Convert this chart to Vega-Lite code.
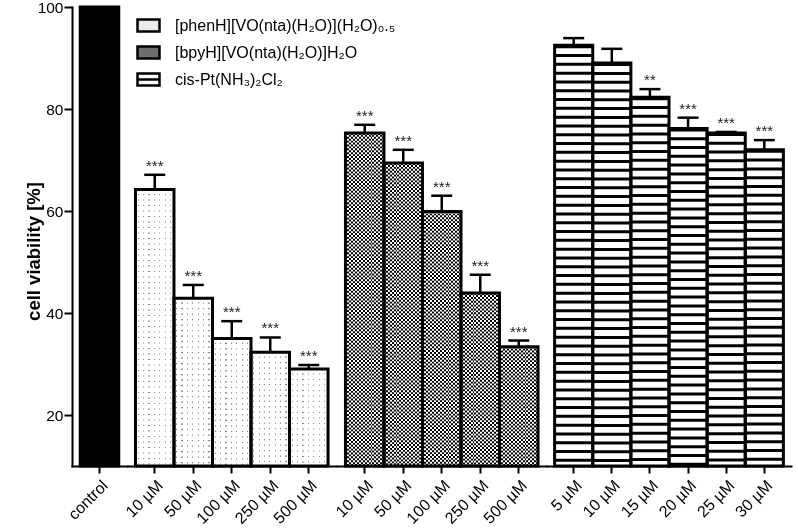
{
  "$schema": "https://vega.github.io/schema/vega-lite/v6.json",
  "padding": {"left": 24, "top": 0, "right": 5, "bottom": 5},
  "background": "white",
  "bounds": "flush",
  "spacing": 0,
  "config": {
    "view": {"stroke": null},
    "font": "Liberation Sans",
    "axis": {"labelFont": "Liberation Sans", "titleFont": "Liberation Sans", "domainColor": "black", "tickColor": "black", "labelColor": "black", "titleColor": "black", "domainWidth": 2, "tickWidth": 2, "grid": false, "domainCap": "square"},
    "axisX": {"labelAngle": -45, "labelFontSize": 16, "tickSize": 7, "labelPadding": 4}
  },
  "data": {"values": [
    {"set": "ctrl", "compound": "control", "dose": "control", "value": 100, "hi": null, "sig": ""},
    {"set": "phen", "compound": "[phenH][VO(nta)(H₂O)](H₂O)₀.₅", "dose": "10 µM", "value": 64.2, "hi": 67.1, "sig": "***"},
    {"set": "phen", "compound": "[phenH][VO(nta)(H₂O)](H₂O)₀.₅", "dose": "50 µM", "value": 42.9, "hi": 45.5, "sig": "***"},
    {"set": "phen", "compound": "[phenH][VO(nta)(H₂O)](H₂O)₀.₅", "dose": "100 µM", "value": 35.0, "hi": 38.4, "sig": "***"},
    {"set": "phen", "compound": "[phenH][VO(nta)(H₂O)](H₂O)₀.₅", "dose": "250 µM", "value": 32.3, "hi": 35.2, "sig": "***"},
    {"set": "phen", "compound": "[phenH][VO(nta)(H₂O)](H₂O)₀.₅", "dose": "500 µM", "value": 29.0, "hi": 29.8, "sig": "***"},
    {"set": "bpy", "compound": "[bpyH][VO(nta)(H₂O)]H₂O", "dose": "10 µM", "value": 75.3, "hi": 76.9, "sig": "***"},
    {"set": "bpy", "compound": "[bpyH][VO(nta)(H₂O)]H₂O", "dose": "50 µM", "value": 69.4, "hi": 72.0, "sig": "***"},
    {"set": "bpy", "compound": "[bpyH][VO(nta)(H₂O)]H₂O", "dose": "100 µM", "value": 59.9, "hi": 63.0, "sig": "***"},
    {"set": "bpy", "compound": "[bpyH][VO(nta)(H₂O)]H₂O", "dose": "250 µM", "value": 43.9, "hi": 47.5, "sig": "***"},
    {"set": "bpy", "compound": "[bpyH][VO(nta)(H₂O)]H₂O", "dose": "500 µM", "value": 33.4, "hi": 34.6, "sig": "***"},
    {"set": "pt", "compound": "cis-Pt(NH₃)₂Cl₂", "dose": "5 µM", "value": 92.5, "hi": 93.9, "sig": ""},
    {"set": "pt", "compound": "cis-Pt(NH₃)₂Cl₂", "dose": "10 µM", "value": 89.0, "hi": 91.8, "sig": ""},
    {"set": "pt", "compound": "cis-Pt(NH₃)₂Cl₂", "dose": "15 µM", "value": 82.3, "hi": 83.9, "sig": "**"},
    {"set": "pt", "compound": "cis-Pt(NH₃)₂Cl₂", "dose": "20 µM", "value": 76.2, "hi": 78.3, "sig": "***"},
    {"set": "pt", "compound": "cis-Pt(NH₃)₂Cl₂", "dose": "25 µM", "value": 75.3, "hi": 75.5, "sig": "***"},
    {"set": "pt", "compound": "cis-Pt(NH₃)₂Cl₂", "dose": "30 µM", "value": 72.0, "hi": 73.9, "sig": "***"}
  ]},
  "resolve": {"scale": {"x": "independent", "y": "independent"}},
  "hconcat": [
    {
      "width": 55, "height": 459,
      "transform": [{"filter": "datum.set === 'ctrl'"}],
      "encoding": {"x": {"field": "dose", "type": "nominal", "sort": null, "scale": {"paddingInner": 0, "paddingOuter": 0.214}, "axis": {"title": null}}},
      "layer": [
        {"mark": {"type": "bar", "fill": "black", "stroke": "black", "strokeWidth": 3},
         "encoding": {"y": {"field": "value", "type": "quantitative", "scale": {"domain": [10, 100], "zero": false, "nice": false},
           "axis": {"title": "cell viability [%]", "values": [20, 40, 60, 80, 100], "labelFontSize": 15.5, "tickSize": 8, "labelPadding": 1, "titleFontSize": 18.5, "titleFontWeight": "bold", "titleX": -29, "titleY": 244}},
           "y2": {"datum": 10}}}
      ]
    },
    {
      "width": 209.5, "height": 459,
      "transform": [{"filter": "datum.set === 'phen'"}],
      "encoding": {"x": {"field": "dose", "type": "nominal", "sort": null, "scale": {"paddingInner": 0, "paddingOuter": 0.22}, "axis": {"title": null}}},
      "layer": [
        {"mark": {"type": "bar", "strokeWidth": 0, "fill": {"gradient": "linear", "x1": 0, "y1": 0, "x2": 1, "y2": 0, "stops": [
          {"offset": 0, "color": "#fff"},
          {"offset": 0.055, "color": "#fff"}, {"offset": 0.055, "color": "#888"}, {"offset": 0.085, "color": "#888"}, {"offset": 0.085, "color": "#fff"},
          {"offset": 0.195, "color": "#fff"}, {"offset": 0.195, "color": "#888"}, {"offset": 0.225, "color": "#888"}, {"offset": 0.225, "color": "#fff"},
          {"offset": 0.335, "color": "#fff"}, {"offset": 0.335, "color": "#888"}, {"offset": 0.365, "color": "#888"}, {"offset": 0.365, "color": "#fff"},
          {"offset": 0.475, "color": "#fff"}, {"offset": 0.475, "color": "#888"}, {"offset": 0.505, "color": "#888"}, {"offset": 0.505, "color": "#fff"},
          {"offset": 0.615, "color": "#fff"}, {"offset": 0.615, "color": "#888"}, {"offset": 0.645, "color": "#888"}, {"offset": 0.645, "color": "#fff"},
          {"offset": 0.755, "color": "#fff"}, {"offset": 0.755, "color": "#888"}, {"offset": 0.785, "color": "#888"}, {"offset": 0.785, "color": "#fff"},
          {"offset": 0.895, "color": "#fff"}, {"offset": 0.895, "color": "#888"}, {"offset": 0.925, "color": "#888"}, {"offset": 0.925, "color": "#fff"},
          {"offset": 1, "color": "#fff"}]}},
         "encoding": {"y": {"field": "value", "type": "quantitative", "scale": {"domain": [10, 100], "zero": false, "nice": false}, "axis": null}, "y2": {"datum": 10}}},
        {"mark": {"type": "rule", "stroke": "white", "strokeWidth": 38.5, "strokeDash": [4.3, 1.2]},
         "encoding": {"y": {"field": "value", "type": "quantitative", "scale": {"domain": [10, 100], "zero": false, "nice": false}, "axis": null}, "y2": {"datum": 10}}},
        {"mark": {"type": "bar", "fill": "transparent", "stroke": "black", "strokeWidth": 3},
         "encoding": {"y": {"field": "value", "type": "quantitative", "scale": {"domain": [10, 100], "zero": false, "nice": false}, "axis": null}, "y2": {"datum": 10}}},
        {"mark": {"type": "rule", "stroke": "black", "strokeWidth": 2.5},
         "encoding": {"y": {"field": "value", "type": "quantitative", "scale": {"domain": [10, 100], "zero": false, "nice": false}, "axis": null}, "y2": {"field": "hi"}}},
        {"mark": {"type": "tick", "color": "black", "size": 21, "thickness": 2.5, "opacity": 1},
         "encoding": {"y": {"field": "hi", "type": "quantitative", "scale": {"domain": [10, 100], "zero": false, "nice": false}, "axis": null}}},
        {"mark": {"type": "text", "fontSize": 15, "color": "#222", "dy": -4, "baseline": "alphabetic"},
         "encoding": {"y": {"field": "hi", "type": "quantitative", "scale": {"domain": [10, 100], "zero": false, "nice": false}, "axis": null}, "text": {"field": "sig", "type": "nominal"}}},
        {"mark": {"type": "bar"},
         "encoding": {"y": {"field": "value", "type": "quantitative", "scale": {"domain": [10, 100], "zero": false, "nice": false}, "axis": null}, "y2": {"field": "value"},
           "fill": {"field": "compound", "type": "nominal",
             "scale": {"domain": ["[phenH][VO(nta)(H₂O)](H₂O)₀.₅", "[bpyH][VO(nta)(H₂O)]H₂O", "cis-Pt(NH₃)₂Cl₂"],
               "range": ["#ececec", "#6e6e6e", "#ffffff"]},
             "legend": {"orient": "none", "legendX": 64, "legendY": 6, "title": null, "symbolType": "M-1,-0.55H1V0.55H-1Z", "symbolSize": 484, "symbolStrokeColor": "black", "symbolStrokeWidth": 2, "labelFontSize": 16, "labelFont": "Liberation Sans", "labelColor": "black", "labelLimit": 500, "labelOffset": 14, "rowPadding": 3, "padding": 0,
               "encode": {"symbols": {"update": {"stroke": {"value": "black"}, "strokeWidth": {"value": 2.5}, "opacity": {"value": 1},
                 "shape": {"signal": "datum.value === 'cis-Pt(NH₃)₂Cl₂' ? 'M-1,-0.55H1V0.55H-1ZM-1,0H1' : 'M-1,-0.55H1V0.55H-1Z'"}}}}}}}}
      ]
    },
    {
      "width": 209.5, "height": 459,
      "transform": [{"filter": "datum.set === 'bpy'"}],
      "encoding": {"x": {"field": "dose", "type": "nominal", "sort": null, "scale": {"paddingInner": 0, "paddingOuter": 0.22}, "axis": {"title": null}}},
      "layer": [
        {"mark": {"type": "bar", "strokeWidth": 0, "fill": {"gradient": "linear", "x1": 0, "y1": 0, "x2": 1, "y2": 0, "stops": [
          {"offset": 0, "color": "#000"}, {"offset": 0.05, "color": "#000"}, {"offset": 0.05, "color": "#fff"}, {"offset": 0.1, "color": "#fff"},
          {"offset": 0.1, "color": "#000"}, {"offset": 0.15, "color": "#000"}, {"offset": 0.15, "color": "#fff"}, {"offset": 0.2, "color": "#fff"},
          {"offset": 0.2, "color": "#000"}, {"offset": 0.25, "color": "#000"}, {"offset": 0.25, "color": "#fff"}, {"offset": 0.3, "color": "#fff"},
          {"offset": 0.3, "color": "#000"}, {"offset": 0.35, "color": "#000"}, {"offset": 0.35, "color": "#fff"}, {"offset": 0.4, "color": "#fff"},
          {"offset": 0.4, "color": "#000"}, {"offset": 0.45, "color": "#000"}, {"offset": 0.45, "color": "#fff"}, {"offset": 0.5, "color": "#fff"},
          {"offset": 0.5, "color": "#000"}, {"offset": 0.55, "color": "#000"}, {"offset": 0.55, "color": "#fff"}, {"offset": 0.6, "color": "#fff"},
          {"offset": 0.6, "color": "#000"}, {"offset": 0.65, "color": "#000"}, {"offset": 0.65, "color": "#fff"}, {"offset": 0.7, "color": "#fff"},
          {"offset": 0.7, "color": "#000"}, {"offset": 0.75, "color": "#000"}, {"offset": 0.75, "color": "#fff"}, {"offset": 0.8, "color": "#fff"},
          {"offset": 0.8, "color": "#000"}, {"offset": 0.85, "color": "#000"}, {"offset": 0.85, "color": "#fff"}, {"offset": 0.9, "color": "#fff"},
          {"offset": 0.9, "color": "#000"}, {"offset": 0.95, "color": "#000"}, {"offset": 0.95, "color": "#fff"}, {"offset": 1, "color": "#fff"}]}},
         "encoding": {"y": {"field": "value", "type": "quantitative", "scale": {"domain": [10, 100], "zero": false, "nice": false}, "axis": null}, "y2": {"datum": 10}}},
        {"mark": {"type": "rule", "stroke": "white", "strokeWidth": 38.5, "strokeDash": [1.925, 1.925], "blend": "difference"},
         "encoding": {"y": {"field": "value", "type": "quantitative", "scale": {"domain": [10, 100], "zero": false, "nice": false}, "axis": null}, "y2": {"datum": 10}}},
        {"mark": {"type": "bar", "fill": "transparent", "stroke": "black", "strokeWidth": 3},
         "encoding": {"y": {"field": "value", "type": "quantitative", "scale": {"domain": [10, 100], "zero": false, "nice": false}, "axis": null}, "y2": {"datum": 10}}},
        {"mark": {"type": "rule", "stroke": "black", "strokeWidth": 2.5},
         "encoding": {"y": {"field": "value", "type": "quantitative", "scale": {"domain": [10, 100], "zero": false, "nice": false}, "axis": null}, "y2": {"field": "hi"}}},
        {"mark": {"type": "tick", "color": "black", "size": 21, "thickness": 2.5, "opacity": 1},
         "encoding": {"y": {"field": "hi", "type": "quantitative", "scale": {"domain": [10, 100], "zero": false, "nice": false}, "axis": null}}},
        {"mark": {"type": "text", "fontSize": 15, "color": "#222", "dy": -4, "baseline": "alphabetic"},
         "encoding": {"y": {"field": "hi", "type": "quantitative", "scale": {"domain": [10, 100], "zero": false, "nice": false}, "axis": null}, "text": {"field": "sig", "type": "nominal"}}}
      ]
    },
    {
      "width": 244, "height": 459,
      "transform": [{"filter": "datum.set === 'pt'"}],
      "encoding": {"x": {"field": "dose", "type": "nominal", "sort": null, "scale": {"paddingInner": 0, "paddingOuter": 0.2}, "axis": {"title": null}}},
      "layer": [
        {"mark": {"type": "bar", "strokeWidth": 0, "fill": "white"},
         "encoding": {"y": {"field": "value", "type": "quantitative", "scale": {"domain": [10, 100], "zero": false, "nice": false}, "axis": null}, "y2": {"datum": 10}}},
        {"mark": {"type": "rule", "stroke": "black", "strokeWidth": 38, "strokeDash": [3, 5.8]},
         "encoding": {"y": {"field": "value", "type": "quantitative", "scale": {"domain": [10, 100], "zero": false, "nice": false}, "axis": null}, "y2": {"datum": 10}}},
        {"mark": {"type": "bar", "fill": "transparent", "stroke": "black", "strokeWidth": 3},
         "encoding": {"y": {"field": "value", "type": "quantitative", "scale": {"domain": [10, 100], "zero": false, "nice": false}, "axis": null}, "y2": {"datum": 10}}},
        {"mark": {"type": "rule", "stroke": "black", "strokeWidth": 2.5},
         "encoding": {"y": {"field": "value", "type": "quantitative", "scale": {"domain": [10, 100], "zero": false, "nice": false}, "axis": null}, "y2": {"field": "hi"}}},
        {"mark": {"type": "tick", "color": "black", "size": 21, "thickness": 2.5, "opacity": 1},
         "encoding": {"y": {"field": "hi", "type": "quantitative", "scale": {"domain": [10, 100], "zero": false, "nice": false}, "axis": null}}},
        {"mark": {"type": "text", "fontSize": 15, "color": "#222", "dy": -4, "baseline": "alphabetic"},
         "encoding": {"y": {"field": "hi", "type": "quantitative", "scale": {"domain": [10, 100], "zero": false, "nice": false}, "axis": null}, "text": {"field": "sig", "type": "nominal"}}}
      ]
    }
  ]
}
